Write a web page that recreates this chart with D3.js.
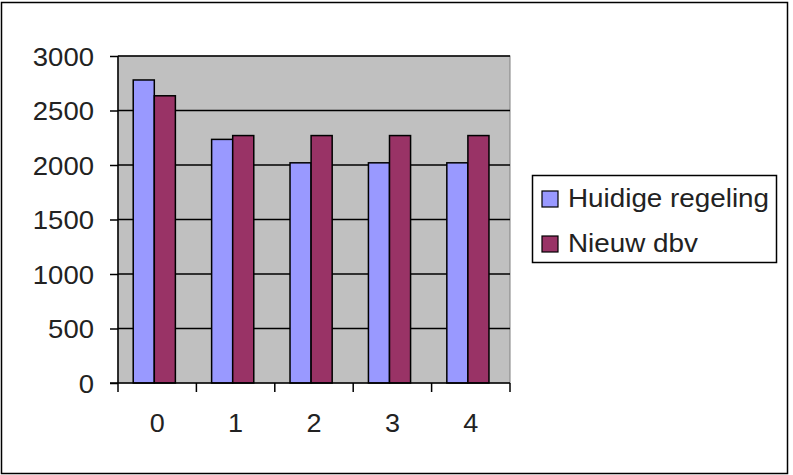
<!DOCTYPE html>
<html>
<head>
<meta charset="utf-8">
<script src="https://cdn.jsdelivr.net/npm/d3@7"></script>
<style>
  body { margin: 0; background: #fff; }
  text { font-family: "Liberation Sans", Arial, sans-serif; fill: #222; }
</style>
</head>
<body>
<svg width="793" height="475"></svg>
<script>
// data
var categories = ["0", "1", "2", "3", "4"];
var seriesNames = ["Huidige regeling", "Nieuw dbv"];
var huidige = [2780, 2235, 2020, 2020, 2020];
var nieuw = [2635, 2270, 2270, 2270, 2270];
var yTicks = [0, 500, 1000, 1500, 2000, 2500, 3000];
var colors = ["#9999ff", "#993366"];

var svg = d3.select("svg");

// stretch text a bit wider, like the original bitmap font
function widen(sel, k) {
  sel.each(function() {
    var w = this.getComputedTextLength();
    d3.select(this).attr("textLength", w * k).attr("lengthAdjust", "spacingAndGlyphs");
  });
}

// outer chart border
svg.append("rect")
  .attr("x", 1.5).attr("y", 2.5)
  .attr("width", 786).attr("height", 471)
  .attr("fill", "#fff").attr("stroke", "#000").attr("stroke-width", 1.5);

var plotLeft = 118, plotRight = 510, plotTop = 56, plotBottom = 383;

var x = d3.scaleBand().domain(categories).range([plotLeft, plotRight]);
var x1 = d3.scaleBand().domain(seriesNames).range([0, x.bandwidth()])
  .paddingOuter(0.86).paddingInner(0).align(0.42);
var y = d3.scaleLinear().domain([0, 3000]).range([plotBottom, plotTop]);

// plot area
svg.append("rect")
  .attr("x", plotLeft).attr("y", plotTop)
  .attr("width", plotRight - plotLeft).attr("height", plotBottom - plotTop)
  .attr("fill", "#c0c0c0").attr("stroke", "#808080").attr("stroke-width", 1);

// gridlines
svg.append("g")
  .selectAll("line")
  .data(yTicks.filter(function(d) { return d > 0; }))
  .enter()
  .append("line")
  .attr("x1", plotLeft).attr("x2", plotRight)
  .attr("y1", function(d) { return y(d); })
  .attr("y2", function(d) { return y(d); })
  .attr("stroke", "#000").attr("stroke-width", 1.5);

// bars
var rows = categories.map(function(c, i) {
  return [
    { cat: c, name: seriesNames[0], value: huidige[i], color: colors[0] },
    { cat: c, name: seriesNames[1], value: nieuw[i], color: colors[1] }
  ];
});

svg.append("g")
  .selectAll("g")
  .data(rows)
  .enter()
  .append("g")
  .attr("transform", function(d) { return "translate(" + x(d[0].cat) + ",0)"; })
  .selectAll("rect")
  .data(function(d) { return d; })
  .enter()
  .append("rect")
  .attr("x", function(d) { return x1(d.name); })
  .attr("width", x1.bandwidth())
  .attr("y", function(d) { return y(d.value); })
  .attr("height", function(d) { return y(0) - y(d.value); })
  .attr("fill", function(d) { return d.color; })
  .attr("stroke", "#000").attr("stroke-width", 1.5);

// y axis
var yAxis = svg.append("g")
  .attr("transform", "translate(" + plotLeft + ",0)")
  .call(d3.axisLeft(y).tickValues(yTicks).tickSize(8).tickPadding(16).tickFormat(d3.format("d")));
yAxis.selectAll("text").style("font-size", "25px").attr("dy", "0.36em").call(widen, 1.1);
yAxis.select(".domain").attr("d", "M0," + plotTop + "V" + (plotBottom + 9)).attr("stroke-width", 1.5);
yAxis.selectAll(".tick line").attr("stroke-width", 1.5);

// x axis
var xAxis = svg.append("g")
  .attr("transform", "translate(0," + plotBottom + ")")
  .call(d3.axisBottom(x).tickSize(0).tickPadding(31));
xAxis.select(".domain").attr("d", "M" + (plotLeft - 8) + ",0H" + plotRight).attr("stroke-width", 1.5);
xAxis.selectAll("text").style("font-size", "25px").call(widen, 1.08);

// category separator ticks
svg.append("g")
  .selectAll("line")
  .data(categories.slice(1).concat(["end"]))
  .enter()
  .append("line")
  .attr("x1", function(d) { return d === "end" ? plotRight : x(d); })
  .attr("x2", function(d) { return d === "end" ? plotRight : x(d); })
  .attr("y1", plotBottom).attr("y2", plotBottom + 9)
  .attr("stroke", "#000").attr("stroke-width", 1.5);

// legend
var legend = svg.append("g");
legend.append("rect")
  .attr("x", 532.5).attr("y", 175.5)
  .attr("width", 244).attr("height", 87)
  .attr("fill", "#fff").attr("stroke", "#000").attr("stroke-width", 1.5);

var items = legend.selectAll("g")
  .data(seriesNames)
  .enter()
  .append("g")
  .attr("transform", function(d, i) { return "translate(542," + (191 + i * 45) + ")"; });

items.append("rect")
  .attr("width", 16).attr("height", 16)
  .attr("fill", function(d, i) { return colors[i]; })
  .attr("stroke", "#000").attr("stroke-width", 1.2);

items.append("text")
  .attr("x", 26).attr("y", 16)
  .style("font-size", "26px")
  .text(function(d) { return d; })
  .call(widen, 1.07);
</script>
</body>
</html>
